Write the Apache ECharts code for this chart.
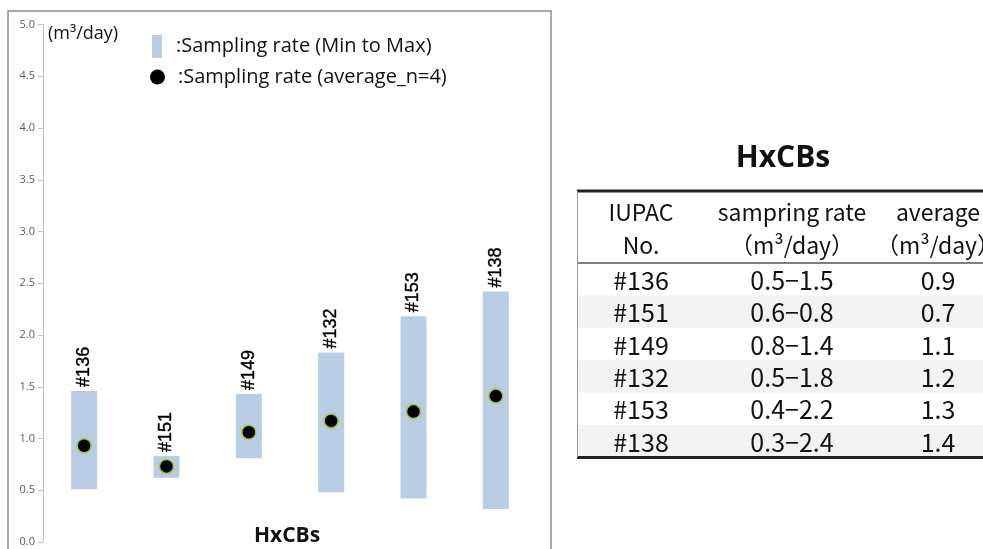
<!DOCTYPE html>
<html>
<head>
<meta charset="utf-8">
<title>HxCBs sampling rate</title>
<script src="https://cdn.jsdelivr.net/npm/echarts@6/dist/echarts.min.js"></script>
<style>
  html, body { margin: 0; padding: 0; background: #fff; }
  #chart { width: 983px; height: 549px; }
</style>
</head>
<body>
<div id="chart"></div>
<script>
// Congeners (IUPAC No.) and their sampling rates, m3/day
const categories = ['#136', '#151', '#149', '#132', '#153', '#138'];
const minRate = [0.51, 0.62, 0.81, 0.48, 0.42, 0.32];
const maxRate = [1.46, 0.83, 1.43, 1.83, 2.18, 2.42];
const avgRate = [0.93, 0.73, 1.06, 1.17, 1.26, 1.41];

const groupName = 'HxCBs';
const unitLabel = '(m³/day)';
const rangeName = 'Sampling rate (Min to Max)';
const avgName = 'Sampling rate (average_n=4)';
const tableHeader1 = ['IUPAC', 'sampring rate', 'average'];
const tableHeader2 = ['No.', '（m³/day）', '（m³/day）'];

const sans = '"Open Sans", "Noto Sans", sans-serif';
const jp = '"Noto Sans CJK JP", sans-serif';

const fmt = v => (Math.round(v * 10) / 10).toFixed(1);

// Range bars are drawn as a transparent base stacked under the min-max span
const spanRate = maxRate.map((v, i) => +(v - minRate[i]).toFixed(4));

// ---- Summary table (graphic elements) ----
const tLeft = 577, tRight = 983;
const tTop = 191, headBottom = 263, rowH = 32.4;
const colX = [641, 792, 938];
const tableEls = [];

categories.forEach((c, i) => {
  if (i % 2 === 1) {
    tableEls.push({
      type: 'rect',
      shape: { x: tLeft, y: headBottom + i * rowH, width: tRight - tLeft, height: rowH },
      style: { fill: '#f2f2f2' }, silent: true
    });
  }
});
const bottomY = headBottom + categories.length * rowH;
tableEls.push(
  { type: 'line', shape: { x1: tLeft, y1: tTop, x2: tRight, y2: tTop }, style: { stroke: '#222', lineWidth: 3 } },
  { type: 'line', shape: { x1: tLeft, y1: headBottom, x2: tRight, y2: headBottom }, style: { stroke: '#555', lineWidth: 1.5 } },
  { type: 'line', shape: { x1: tLeft, y1: bottomY, x2: tRight, y2: bottomY }, style: { stroke: '#222', lineWidth: 3 } },
  { type: 'line', shape: { x1: tLeft + 0.5, y1: tTop, x2: tLeft + 0.5, y2: bottomY }, style: { stroke: '#999', lineWidth: 1 } },
  {
    type: 'text',
    style: { text: groupName, x: 783, y: 158, align: 'center', verticalAlign: 'middle',
             font: 'bold 30px ' + sans, fill: '#111' }
  }
);
tableHeader1.forEach((t, k) => {
  tableEls.push({ type: 'text', style: { text: t, x: colX[k], y: 212, align: 'center', verticalAlign: 'middle',
    font: '23px ' + jp, fill: '#111' } });
  tableEls.push({ type: 'text', style: { text: tableHeader2[k], x: colX[k], y: 245, align: 'center', verticalAlign: 'middle',
    font: '23px ' + jp, fill: '#111' } });
});
categories.forEach((c, i) => {
  const y = headBottom + rowH * (i + 0.5) + 1;
  const cells = [c, fmt(minRate[i]) + '−' + fmt(maxRate[i]), fmt(avgRate[i])];
  cells.forEach((t, k) => {
    tableEls.push({ type: 'text', style: { text: t, x: colX[k], y: y, align: 'center', verticalAlign: 'middle',
      font: '25px ' + jp, fill: '#111' } });
  });
});

// ---- Chart frame and captions ----
const chartEls = [
  { type: 'rect', shape: { x: 8, y: 11, width: 543, height: 560 },
    style: { fill: 'none', stroke: '#8c8c8c', lineWidth: 1.5 }, silent: true, z: -1 },
  { type: 'text', style: { text: unitLabel, x: 48, y: 34, verticalAlign: 'middle',
      font: '18px ' + sans, fill: '#111' } },
  { type: 'text', style: { text: groupName, x: 287, y: 536, align: 'center', verticalAlign: 'middle',
      font: 'bold 21px ' + sans, fill: '#111' } }
];

const chart = echarts.init(document.getElementById('chart'), null, { renderer: 'canvas' });
chart.setOption({
  backgroundColor: '#fff',
  animation: false,
  grid: { left: 43, right: 446, top: 24.5, bottom: 7, containLabel: false, outerBoundsMode: 'none' },
  legend: [
    {
      selectedMode: false, orient: 'vertical', left: 152, top: 35, padding: 0,
      itemWidth: 10, itemHeight: 23,
      data: [{ name: rangeName, icon: 'rect' }],
      formatter: n => ':' + n,
      textStyle: { fontFamily: sans, fontSize: 20, color: '#111', padding: [0, 0, 0, 9] }
    },
    {
      selectedMode: false, orient: 'vertical', left: 150, top: 67, padding: 0,
      itemWidth: 15, itemHeight: 15,
      data: [{ name: avgName, icon: 'circle', itemStyle: { borderWidth: 0 } }],
      formatter: n => ':' + n,
      textStyle: { fontFamily: sans, fontSize: 20, color: '#111', padding: [0, 0, 0, 8] }
    }
  ],
  xAxis: {
    type: 'category', data: categories,
    axisLine: { show: false }, axisTick: { show: false }, axisLabel: { show: false }
  },
  yAxis: {
    type: 'value', min: 0, max: 5, interval: 0.5,
    axisLine: { show: true, lineStyle: { color: '#bfbfbf', width: 1 } },
    axisTick: { show: true, length: 5, lineStyle: { color: '#bfbfbf' } },
    axisLabel: { formatter: v => v.toFixed(1), fontSize: 11, color: '#595959', margin: 8, fontFamily: sans },
    splitLine: { show: false }
  },
  series: [
    {
      name: 'base', type: 'bar', stack: 'range', barWidth: 26, data: minRate,
      itemStyle: { color: 'transparent' }, silent: true
    },
    {
      name: rangeName, type: 'bar', stack: 'range', barWidth: 26, data: spanRate,
      itemStyle: { color: '#b8cde3' },
      label: {
        show: true, position: 'top', rotate: 90, align: 'left', verticalAlign: 'middle',
        distance: 4, formatter: p => p.name, fontSize: 18, color: '#000',
        fontFamily: '"Liberation Sans", Arial, sans-serif', textBorderColor: '#000', textBorderWidth: 0.4
      }
    },
    {
      name: avgName, type: 'scatter', data: avgRate, symbolSize: 14, z: 5,
      itemStyle: { color: '#000', borderColor: '#a8c43c', borderWidth: 1.5, opacity: 1 }
    }
  ],
  graphic: chartEls.concat(tableEls)
});
</script>
</body>
</html>
